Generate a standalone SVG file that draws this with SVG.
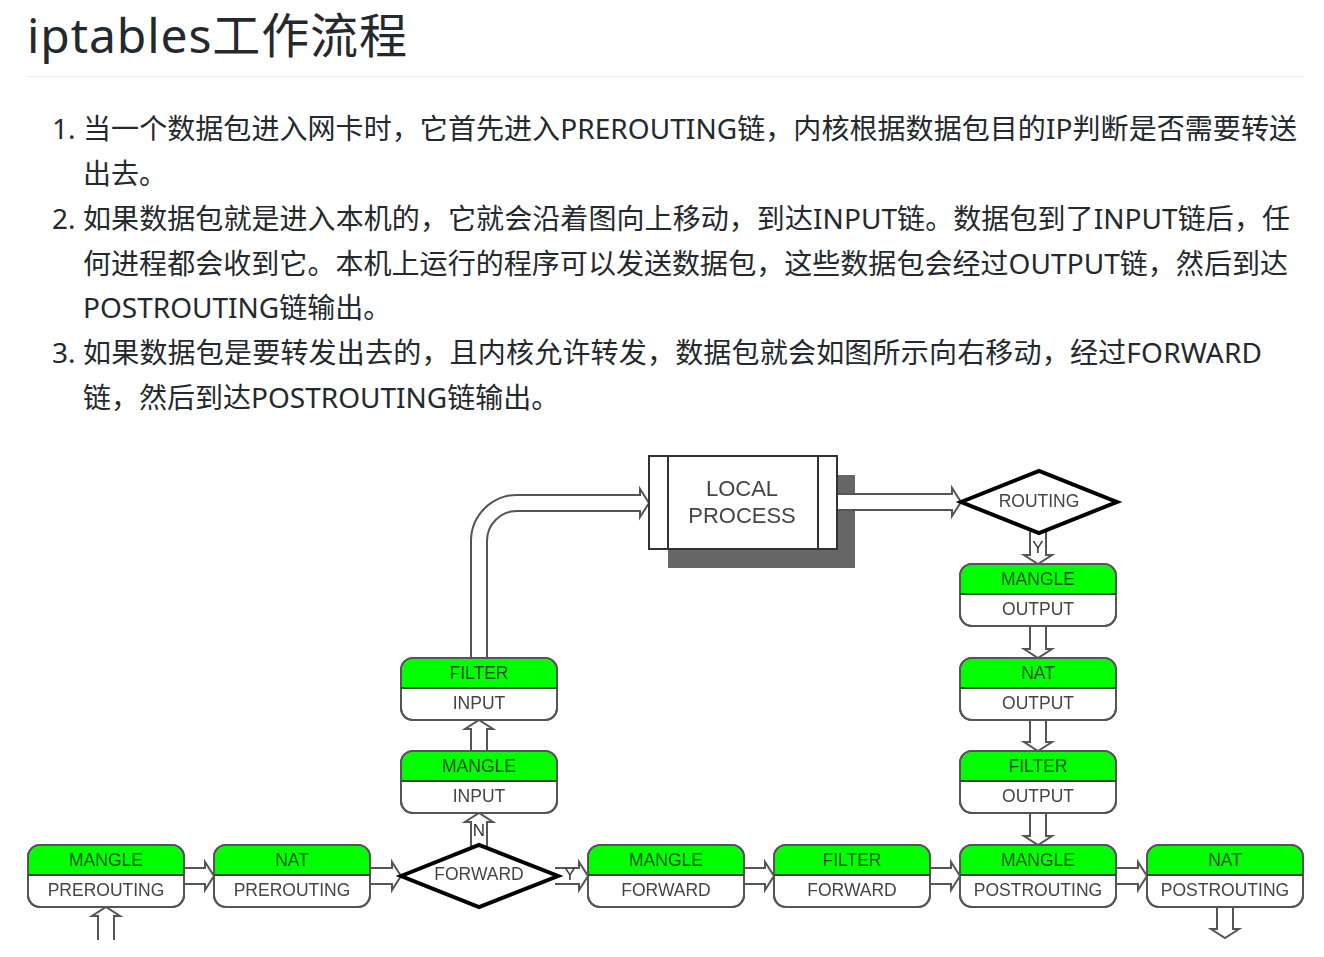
<svg xmlns="http://www.w3.org/2000/svg" width="1324" height="957" viewBox="0 0 1324 957">
  <style>
    .title { font-family: "Noto Sans", "Noto Sans CJK SC", sans-serif; font-size: 48px; fill: #24292e; }
    .body { font-family: "Noto Sans", "Noto Sans CJK SC", sans-serif; font-size: 28px; fill: #24292e; }
    .lbl { font-family: "Liberation Sans", Arial, sans-serif; font-size: 17.5px; text-anchor: middle; }
    .tbl { fill: #0a4f0a; }
    .chain { fill: #444; }
    .dec { fill: #444; }
    .yn { font-family: "Liberation Sans", Arial, sans-serif; font-size: 17px; fill: #333; text-anchor: middle; }
    .lp { font-family: "Liberation Sans", Arial, sans-serif; font-size: 22px; fill: #444; text-anchor: middle; }
    .box { fill: #fff; stroke: #555; stroke-width: 2; }
    .top { fill: #00ff00; }
    .div { stroke: #2f4f2f; stroke-width: 2; }
    .pipe { fill: #fff; stroke: #555; stroke-width: 2; stroke-linejoin: miter; }
    .diamond { fill: #fff; stroke: #000; stroke-width: 4; stroke-linejoin: miter; }
  </style>
  <defs>
    <filter id="soft" x="-5%" y="-5%" width="110%" height="110%">
      <feGaussianBlur stdDeviation="0.5"/>
    </filter>
    <!-- two-part chain box: green table band over white chain band -->
    <g id="chainbox">
      <rect class="box" x="0" y="0" width="156" height="62" rx="12" ry="12"/>
      <path class="top" d="M1,30 V12 A11,11 0 0 1 12,1 H144 A11,11 0 0 1 155,12 V30 Z"/>
      <rect x="0" y="0" width="156" height="62" rx="12" ry="12" fill="none" stroke="#555" stroke-width="2"/>
      <line class="div" x1="0" y1="30" x2="156" y2="30"/>
    </g>
  </defs>

  <!-- heading -->
  <text class="title" x="27" y="53" textLength="380" lengthAdjust="spacing">iptables工作流程</text>
  <line x1="27" y1="76.5" x2="1304" y2="76.5" stroke="#eaecef" stroke-width="1"/>

  <!-- numbered explanation -->
  <g id="steps">
    <text class="body" x="52" y="139">1.</text>
    <text class="body" x="83" y="139" textLength="1214" lengthAdjust="spacing">当一个数据包进入网卡时，它首先进入PREROUTING链，内核根据数据包目的IP判断是否需要转送</text>
    <text class="body" x="83" y="184">出去。</text>
    <text class="body" x="52" y="229">2.</text>
    <text class="body" x="83" y="229" textLength="1207" lengthAdjust="spacing">如果数据包就是进入本机的，它就会沿着图向上移动，到达INPUT链。数据包到了INPUT链后，任</text>
    <text class="body" x="83" y="274" textLength="1205" lengthAdjust="spacing">何进程都会收到它。本机上运行的程序可以发送数据包，这些数据包会经过OUTPUT链，然后到达</text>
    <text class="body" x="83" y="318">POSTROUTING链输出。</text>
    <text class="body" x="52" y="363">3.</text>
    <text class="body" x="83" y="363" textLength="1179" lengthAdjust="spacing">如果数据包是要转发出去的，且内核允许转发，数据包就会如图所示向右移动，经过FORWARD</text>
    <text class="body" x="83" y="408">链，然后到达POSTROUTING链输出。</text>
  </g>

  <g id="diagram" filter="url(#soft)">
    <!-- local process shadow sits beneath the outgoing pipe -->
    <rect x="668" y="475" width="187" height="93" fill="#666"/>

    <g id="connectors">
      <!-- packet entering from the wire -->
      <path class="pipe" d="M98,940 V916 L92,916 L106,907 L120,916 L114,916 V940"/>
      <!-- prerouting chain -->
      <path class="pipe" d="M184,868 H205 L205,862 L214,876 L205,890 L205,884 H184"/>
      <path class="pipe" d="M370,868 H392 L392,862 L401,876 L392,890 L392,884 H370"/>
      <!-- forward decision: Y to the right -->
      <path class="pipe" d="M555,868 H579 L579,862 L588,876 L579,890 L579,884 H555"/>
      <path class="pipe" d="M744,868 H765 L765,862 L774,876 L765,890 L765,884 H744"/>
      <path class="pipe" d="M929,868 H951 L951,862 L960,876 L951,890 L951,884 H929"/>
      <path class="pipe" d="M1116,868 H1138 L1138,862 L1147,876 L1138,890 L1138,884 H1116"/>
      <!-- packet leaving to the wire -->
      <path class="pipe" d="M1217,907 V929 L1211,929 L1225,938 L1239,929 L1233,929 V907"/>
      <!-- forward decision: N upwards to input -->
      <path class="pipe" d="M471,850 V822 L465,822 L479,813 L493,822 L487,822 V850"/>
      <path class="pipe" d="M471,751 V729 L465,729 L479,720 L493,729 L487,729 V751"/>
      <!-- input up and over to the local process -->
      <path class="pipe" d="M471,658 V541 A46,46 0 0 1 517,495 H640 L640,489 L649,503 L640,517 L640,511 H517 A30,30 0 0 0 487,541 V658"/>
      <!-- local process out to routing decision -->
      <path class="pipe" d="M837,494 H952 L952,488 L961,502 L952,516 L952,510 H837"/>
      <!-- routing decision down through the output chain -->
      <path class="pipe" d="M1030,528 V555 L1024,555 L1038,564 L1052,555 L1046,555 V528"/>
      <path class="pipe" d="M1030,627 V649 L1024,649 L1038,658 L1052,649 L1046,649 V627"/>
      <path class="pipe" d="M1030,720 V742 L1024,742 L1038,751 L1052,742 L1046,742 V720"/>
      <path class="pipe" d="M1030,813 V836 L1024,836 L1038,845 L1052,836 L1046,836 V813"/>
      <text class="yn" x="479" y="836">N</text>
      <text class="yn" x="570" y="880">Y</text>
      <text class="yn" x="1038" y="553">Y</text>
    </g>

    <g id="local-process">
      <rect x="649" y="456" width="188" height="93" fill="#fff" stroke="#333" stroke-width="2"/>
      <line x1="668" y1="456" x2="668" y2="549" stroke="#333" stroke-width="2"/>
      <line x1="818" y1="456" x2="818" y2="549" stroke="#333" stroke-width="2"/>
      <text class="lp" x="742" y="496">LOCAL</text>
      <text class="lp" x="742" y="523">PROCESS</text>
    </g>

    <g id="routing">
      <polygon class="diamond" points="961,502 1039,471 1117,502 1039,533"/>
      <text class="lbl dec" x="1039" y="507">ROUTING</text>
    </g>

    <g id="forward">
      <polygon class="diamond" points="401,876 479,845 558,876 479,907"/>
      <text class="lbl dec" x="479" y="880">FORWARD</text>
    </g>

    <g id="mangle-prerouting" transform="translate(28,845)">
      <use href="#chainbox"/>
      <text class="lbl tbl" x="78" y="21">MANGLE</text>
      <text class="lbl chain" x="78" y="51">PREROUTING</text>
    </g>
    <g id="nat-prerouting" transform="translate(214,845)">
      <use href="#chainbox"/>
      <text class="lbl tbl" x="78" y="21">NAT</text>
      <text class="lbl chain" x="78" y="51">PREROUTING</text>
    </g>
    <g id="mangle-input" transform="translate(401,751)">
      <use href="#chainbox"/>
      <text class="lbl tbl" x="78" y="21">MANGLE</text>
      <text class="lbl chain" x="78" y="51">INPUT</text>
    </g>
    <g id="filter-input" transform="translate(401,658)">
      <use href="#chainbox"/>
      <text class="lbl tbl" x="78" y="21">FILTER</text>
      <text class="lbl chain" x="78" y="51">INPUT</text>
    </g>
    <g id="mangle-forward" transform="translate(588,845)">
      <use href="#chainbox"/>
      <text class="lbl tbl" x="78" y="21">MANGLE</text>
      <text class="lbl chain" x="78" y="51">FORWARD</text>
    </g>
    <g id="filter-forward" transform="translate(774,845)">
      <use href="#chainbox"/>
      <text class="lbl tbl" x="78" y="21">FILTER</text>
      <text class="lbl chain" x="78" y="51">FORWARD</text>
    </g>
    <g id="mangle-output" transform="translate(960,564)">
      <use href="#chainbox"/>
      <text class="lbl tbl" x="78" y="21">MANGLE</text>
      <text class="lbl chain" x="78" y="51">OUTPUT</text>
    </g>
    <g id="nat-output" transform="translate(960,658)">
      <use href="#chainbox"/>
      <text class="lbl tbl" x="78" y="21">NAT</text>
      <text class="lbl chain" x="78" y="51">OUTPUT</text>
    </g>
    <g id="filter-output" transform="translate(960,751)">
      <use href="#chainbox"/>
      <text class="lbl tbl" x="78" y="21">FILTER</text>
      <text class="lbl chain" x="78" y="51">OUTPUT</text>
    </g>
    <g id="mangle-postrouting" transform="translate(960,845)">
      <use href="#chainbox"/>
      <text class="lbl tbl" x="78" y="21">MANGLE</text>
      <text class="lbl chain" x="78" y="51">POSTROUTING</text>
    </g>
    <g id="nat-postrouting" transform="translate(1147,845)">
      <use href="#chainbox"/>
      <text class="lbl tbl" x="78" y="21">NAT</text>
      <text class="lbl chain" x="78" y="51">POSTROUTING</text>
    </g>
  </g>
</svg>
